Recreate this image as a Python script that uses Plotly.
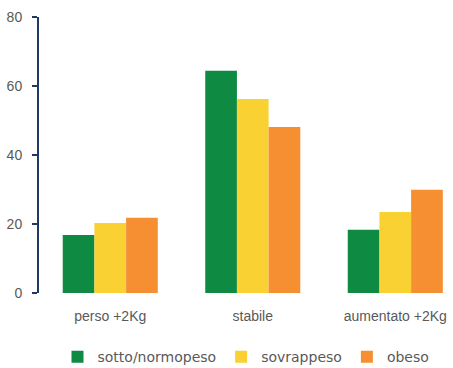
import plotly.graph_objects as go

categories = ["perso +2Kg", "stabile", "aumentato +2Kg"]
series_names = ["sotto/normopeso", "sovrappeso", "obeso"]
sotto_normopeso = [16.8, 64.4, 18.3]
sovrappeso = [20.3, 56.2, 23.5]
obeso = [21.8, 48.1, 29.9]
y_ticks = [0, 20, 40, 60, 80]

colors = ["#0F8A43", "#F9D132", "#F58F31"]
values = [sotto_normopeso, sovrappeso, obeso]

fig = go.Figure()
for name, vals, col in zip(series_names, values, colors):
    fig.add_trace(go.Bar(x=categories, y=vals, name=name, marker_color=col,
                         marker_line_width=0))

fig.update_layout(
    width=453, height=368,
    margin=dict(l=39, r=0, t=17, b=75, autoexpand=False),
    plot_bgcolor="white", paper_bgcolor="white",
    barmode="group", bargap=0.333, bargroupgap=0,
    font=dict(family="Liberation Sans, Arial, sans-serif", size=14, color="#595959"),
    xaxis=dict(range=[-0.5, 2.405], showline=False, ticks="", showgrid=False,
               automargin=False, ticklabelstandoff=13,
               tickfont=dict(size=14, color="#595959")),
    yaxis=dict(range=[0, 80], tickvals=y_ticks, showline=True, linecolor="#1F3864",
               linewidth=2, ticks="outside", ticklen=5, tickcolor="#1F3864", tickwidth=2,
               showgrid=False, zeroline=False, automargin=False, ticklabelstandoff=7,
               tickfont=dict(size=14, color="#595959")),
    legend=dict(orientation="h", x=0.5, xanchor="center", y=-0.232, yanchor="middle",
                font=dict(family="DejaVu Sans, sans-serif", size=14, color="#595959"),
                itemwidth=30, traceorder="normal"),
    showlegend=True,
)

fig.write_html("out.html", config={"displayModeBar": False},
               post_script="document.body.style.margin='0';document.body.style.overflow='hidden';")
